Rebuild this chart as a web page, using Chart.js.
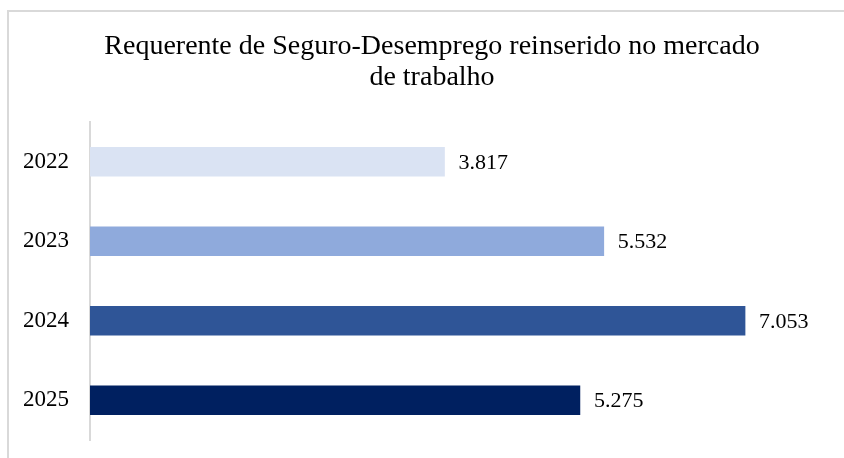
<!DOCTYPE html>
<html>
<head>
<meta charset="utf-8">
<script src="https://cdn.jsdelivr.net/npm/chart.js@4.4.0/dist/chart.umd.min.js"></script>
<style>
  html, body { margin: 0; padding: 0; background: #fff; overflow: hidden; }
  canvas { display: block; }
</style>
</head>
<body>
<canvas id="barGraph" width="844" height="458"></canvas>
<script>
// DATA
const years = ['2022', '2023', '2024', '2025'];
const requerentes = [3817, 5532, 7053, 5275];
const barColors = ['#dae3f3', '#8faadc', '#2f5597', '#002060'];
const titleLines = ['Requerente de Seguro-Desemprego reinserido no mercado', 'de trabalho'];

const serif = "'Liberation Serif', 'Times New Roman', serif";

// 3817 -> "3.817"
function fmt(v) {
  return String(v).replace(/\B(?=(\d{3})+(?!\d))/g, '.');
}

// frame lines (top / left) and the two-line title
const frame = {
  id: 'frame',
  beforeDraw(chart) {
    const c = chart.ctx;
    c.save();
    c.fillStyle = '#d9d9d9';
    c.fillRect(7, 10, chart.width - 7, 2);
    c.fillRect(7, 10, 2, chart.height - 10);

    c.font = '28px ' + serif;
    c.fillStyle = '#000';
    c.textAlign = 'center';
    c.textBaseline = 'alphabetic';
    c.fillText(titleLines[0], 432, 54);
    c.fillText(titleLines[1], 432, 85);
    c.restore();
  }
};

// value label at the end of every bar
const valueLabels = {
  id: 'valueLabels',
  afterDatasetsDraw(chart) {
    const c = chart.ctx;
    const meta = chart.getDatasetMeta(0);
    c.save();
    c.font = '22px ' + serif;
    c.fillStyle = '#000';
    c.textAlign = 'left';
    c.textBaseline = 'middle';
    meta.data.forEach((bar, i) => {
      c.fillText(fmt(chart.data.datasets[0].data[i]), bar.x + 14, bar.y + 1);
    });
    c.restore();
  }
};

const ctx = document.getElementById('barGraph').getContext('2d');
const myChart = new Chart(ctx, {
  type: 'bar',
  data: {
    labels: years,
    datasets: [{
      label: 'Requerentes',
      data: requerentes,
      backgroundColor: barColors,
      borderWidth: 0,
      barThickness: 29
    }]
  },
  options: {
    indexAxis: 'y',
    responsive: false,
    animation: false,
    devicePixelRatio: 1,
    layout: { padding: { left: 0, right: 11, top: 122, bottom: 18 } },
    plugins: {
      legend: { display: false },
      tooltip: { enabled: false },
      title: { display: false }
    },
    scales: {
      x: {
        display: false,
        min: 0,
        max: 8000
      },
      y: {
        afterFit(scale) {
          scale.width = 90;
          scale.paddingTop = 0;
          scale.paddingBottom = 0;
        },
        grid: { display: false, drawTicks: false },
        border: { display: true, color: '#d9d9d9', width: 2 },
        ticks: {
          color: '#000',
          padding: 21,
          font: { family: serif, size: 23 }
        }
      }
    }
  },
  plugins: [frame, valueLabels]
});
</script>
</body>
</html>
